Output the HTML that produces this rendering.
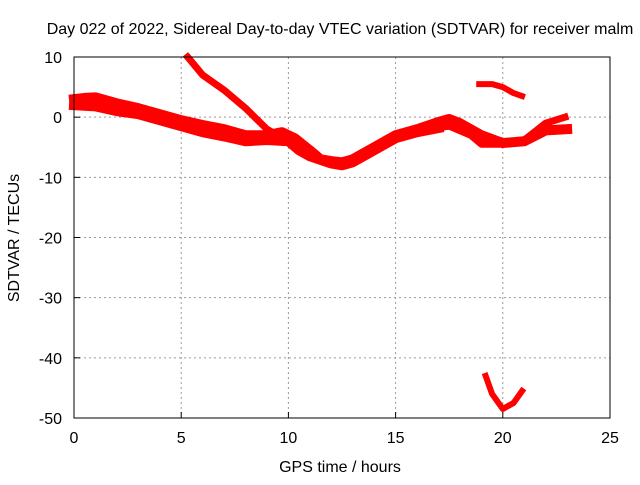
<!DOCTYPE html>
<html><head><meta charset="utf-8"><style>
body{margin:0;background:#fff;width:640px;height:480px;overflow:hidden}
svg{font-family:"Liberation Sans",sans-serif}
</style></head><body>
<svg id="chart" width="640" height="480">
<text x="340" y="34" font-size="16" text-anchor="middle">Day 022 of 2022, Sidereal Day-to-day VTEC variation (SDTVAR) for receiver malm</text>
<text x="340" y="472" font-size="16" text-anchor="middle">GPS time / hours</text>
<text transform="translate(19,238) rotate(-90)" font-size="16" text-anchor="middle">SDTVAR / TECUs</text>
<g id="grid"></g><g id="ticks"></g><g id="marks"></g>
<rect x="74" y="57" width="536" height="361" fill="none" stroke="#000"/>
</svg>
<script>
const xTicks=[0,5,10,15,20,25];
const yTicks=[10,0,-10,-20,-30,-40,-50];
const trackNames=['main-band-upper','main-band-lower','descending-track','second-band','short-track-high','low-track'];
const trackTimes=[
[0,0.5,1,2,3,4,5,6,7,8,9,9.7,10.3,11,11.5,12,12.5,13,14,15,16,17,17.5,18,19,20,21,22,23],
[0,1,2,3,4,5,6,7,8,9,10,10.5,11,12,12.5,13,14,15,16,17],
[5.3,6,7,8,9,9.5,10],
[15.5,16.5,17.5,18.5,19,20,21,22,22.9],
[18.9,19.5,20,20.5,20.9],
[19.2,19.5,20,20.5,20.9]];
const trackValues=[
[3,3.2,3.3,2.3,1.5,0.5,-0.5,-1.3,-2,-3,-3,-2.5,-3.5,-5.5,-7,-7.3,-7.5,-7,-5,-3,-2,-0.8,-0.3,-1,-3,-4.3,-4,-2.2,-2],
[2,1.8,1,0.5,-0.5,-1.5,-2.5,-3.2,-4,-3.8,-4,-5.5,-6.5,-7.7,-8,-7.5,-5.5,-3.5,-2.5,-1.8],
[10,7,4.5,1.5,-2,-3,-3.5],
[-2.5,-2,-1.5,-3,-4.5,-4.5,-3.8,-1,0],
[5.5,5.5,5,4,3.5],
[-43,-46,-48.5,-47.5,-45.5]];
const trackWidths=[10,10,7,7,6,6];
const X=t=>74+t*536/25, Y=v=>57+(10-v)*361/60;
const ns='http://www.w3.org/2000/svg';
const g=document.getElementById('grid'),tk=document.getElementById('ticks'),mk=document.getElementById('marks');
function el(n,a,p){const e=document.createElementNS(ns,n);for(const k in a)e.setAttribute(k,a[k]);p.appendChild(e);return e;}
xTicks.forEach(t=>{
 if(t>0&&t<25){const l=el('line',{x1:X(t),x2:X(t),y1:57,y2:418,stroke:'#999','stroke-dasharray':'2,3'},g);
 
 }
 const s=el('line',{x1:X(t),x2:X(t),y1:418,y2:412,stroke:'#000'},tk);
 
 
 const tx=el('text',{x:X(t),y:443,'font-size':16,'text-anchor':'middle'},tk);tx.textContent=t;
 
 
});
yTicks.forEach(v=>{
 if(v<10&&v>-50){const l=el('line',{x1:74,x2:610,y1:Y(v),y2:Y(v),stroke:'#999','stroke-dasharray':'2,3'},g);
 
 }
 const s=el('line',{x1:74,x2:80,y1:Y(v),y2:Y(v),stroke:'#000'},tk);
 
 
 const tx=el('text',{x:62,y:Y(v)+6,'font-size':16,'text-anchor':'end'},tk);tx.textContent=v;
 
 
});
trackTimes.forEach((ts,i)=>{
 const pts=ts.map((t,j)=>X(t)+','+Y(trackValues[i][j])).join(' ');
 const p=el('polyline',{points:pts,fill:'none',stroke:'#f00','stroke-width':trackWidths[i],'stroke-linejoin':'round','stroke-linecap':'square'},mk);
 
 
});
</script>
</body></html>
